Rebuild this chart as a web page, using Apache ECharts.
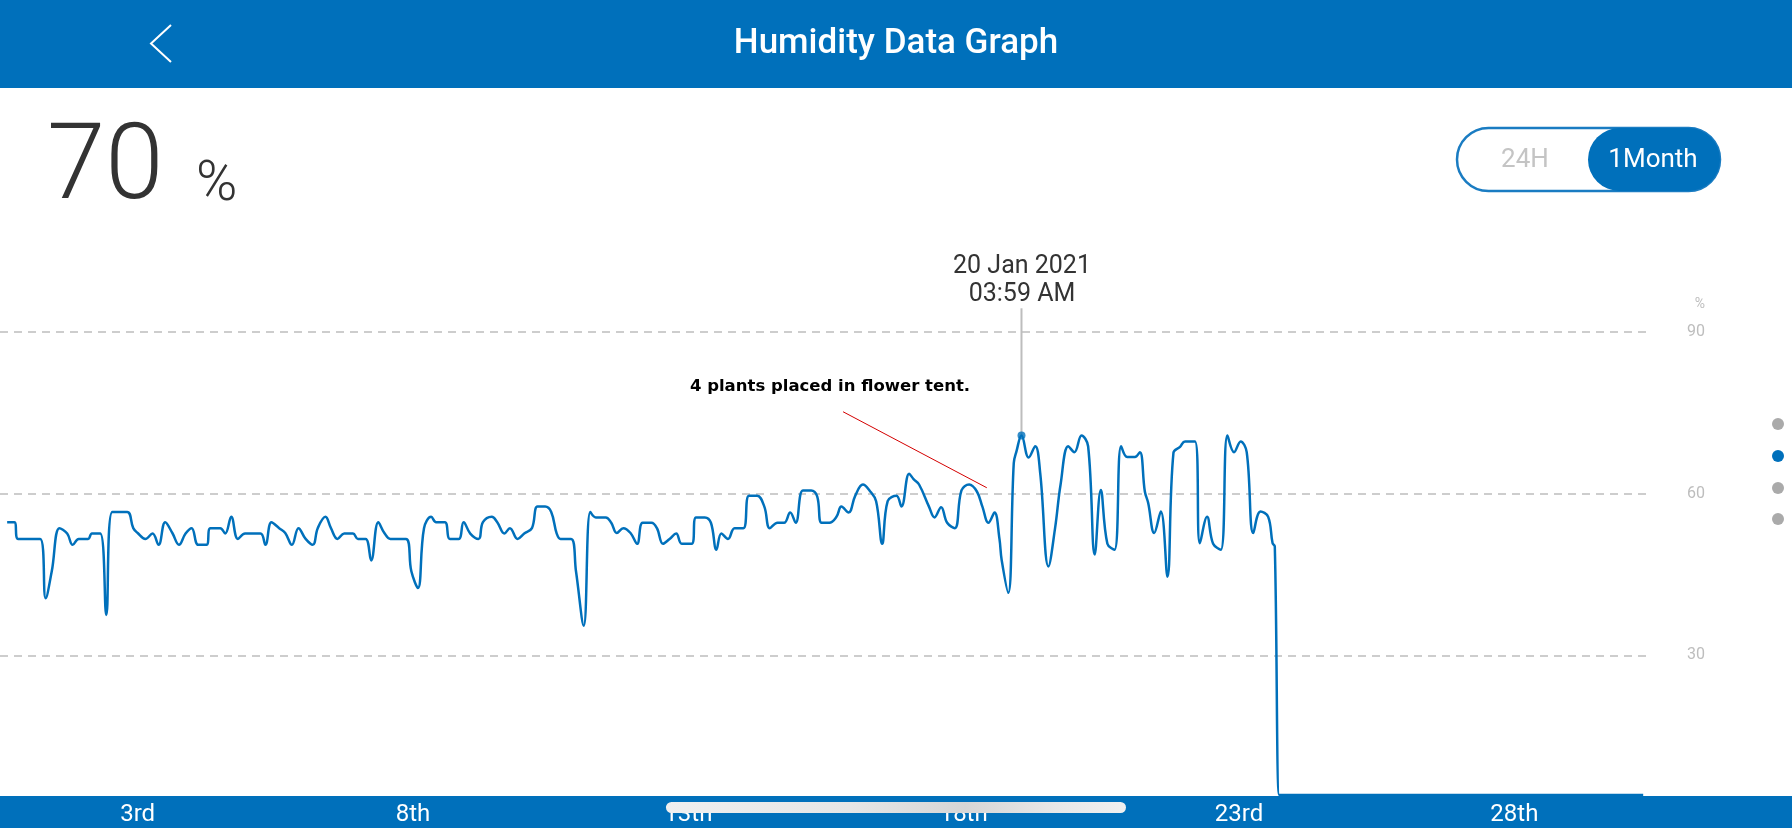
<!DOCTYPE html>
<html><head><meta charset="utf-8">
<script src="https://cdn.jsdelivr.net/npm/echarts@6/dist/echarts.min.js"></script>
<style>html,body{margin:0;padding:0;background:#fff;overflow:hidden}#c{width:1792px;height:828px}</style>
</head><body><div id="c"></div>
<script>
// ---- data (x = day of month, y = humidity %) ----
const dayPos = [0.63,0.76,0.83,1.23,1.33,1.44,1.58,1.72,1.82,1.93,2.10,2.17,2.32,2.43,2.54,2.81,2.92,3.00,3.14,3.27,3.38,3.50,3.63,3.75,3.87,3.98,4.10,4.25,4.32,4.50,4.59,4.70,4.82,4.95,5.23,5.32,5.43,5.57,5.68,5.80,5.92,6.05,6.18,6.27,6.41,6.51,6.63,6.75,6.91,7.00,7.14,7.24,7.37,7.48,7.59,7.87,7.97,8.09,8.20,8.33,8.42,8.58,8.67,8.83,8.92,9.04,9.19,9.27,9.43,9.53,9.66,9.76,9.90,10.02,10.16,10.26,10.40,10.51,10.61,10.68,10.87,10.96,11.10,11.22,11.32,11.50,11.60,11.70,11.82,11.95,12.07,12.17,12.33,12.43,12.54,12.66,12.78,12.88,13.06,13.14,13.30,13.41,13.51,13.60,13.72,13.84,14.00,14.10,14.25,14.38,14.48,14.62,14.74,14.85,14.95,15.08,15.23,15.34,15.42,15.56,15.69,15.78,15.91,16.03,16.17,16.29,16.41,16.52,16.62,16.78,16.87,17.01,17.09,17.19,17.37,17.47,17.59,17.70,17.84,17.96,18.10,18.24,18.34,18.45,18.56,18.65,18.69,18.81,18.91,18.96,19.05,19.18,19.30,19.39,19.54,19.66,19.76,19.90,20.01,20.14,20.26,20.38,20.49,20.61,20.74,20.86,20.97,21.11,21.20,21.29,21.35,21.46,21.58,21.70,21.81,21.93,22.02,22.20,22.29,22.42,22.53,22.67,22.79,22.91,23.03,23.14,23.26,23.39,23.53,23.61,23.65,23.73,23.78,30.34];
const humidity = [54.7,54.7,51.6,51.6,40.6,45.6,53.6,52.6,50.5,51.6,51.6,52.6,52.6,37.5,56.6,56.6,53.6,52.7,51.6,52.6,50.5,54.7,52.7,50.5,52.6,53.6,50.5,50.5,53.6,53.6,52.6,55.7,51.6,52.6,52.6,50.5,54.7,53.6,52.7,50.5,53.6,51.6,50.5,53.6,55.7,53.6,51.6,52.6,52.6,51.6,51.6,47.6,54.7,52.7,51.6,51.6,45.6,42.5,53.6,55.7,54.7,54.7,51.6,51.6,54.7,52.6,51.6,54.7,55.7,54.7,52.6,53.6,51.6,52.6,53.6,57.6,57.6,56.6,52.6,51.6,51.6,45.6,35.5,56.6,55.6,55.6,54.6,52.7,53.6,52.7,50.7,54.6,54.6,53.6,50.7,51.6,52.6,50.7,50.7,55.6,55.6,54.6,49.6,52.6,51.6,53.6,53.6,59.6,59.6,57.6,53.6,54.6,54.6,56.5,54.6,60.6,60.6,59.5,54.6,54.6,55.7,57.6,56.5,59.6,61.7,60.6,58.6,50.7,58.6,59.6,57.6,63.7,62.7,61.7,57.6,55.6,57.5,54.6,53.6,60.6,61.7,60.4,57.6,54.6,56.5,51.6,47.7,41.6,65.7,67.9,70.8,66.7,68.8,63.8,46.5,53.6,61.7,68.8,67.7,70.8,68.8,48.7,60.7,50.7,49.6,68.8,66.8,66.8,67.7,60.4,58.3,52.7,56.7,44.6,67.6,68.7,69.7,69.7,50.8,55.7,50.7,49.6,70.8,67.7,69.7,67.7,52.7,56.7,55.7,50.8,50.2,4.1,4.1,4.1];
const xTickDays = [3, 8, 13, 18, 23, 28];
const xTickLabels = ['3rd', '8th', '13th', '18th', '23rd', '28th'];
const yTicks = [0, 30, 60, 90];
const highlightDay = 19.05, highlightValue = 70.8, pointerTopValue = 94.4;
const noteLineDays = [15.81, 18.42];
const noteLineValues = [75.2, 61.1];
const titleText = 'Humidity Data Graph';
const currentValue = '70';
const noteText = '4 plants placed in flower tent.';
const tipDate = '20 Jan 2021', tipTime = '03:59 AM';

const BLUE = '#0070BB';
const FF = 'Roboto, "Noto Sans", "DejaVu Sans", sans-serif';
const chart = echarts.init(document.getElementById('c'), null, {renderer: 'canvas'});
const mainData = dayPos.map((d, i) => [d, humidity[i]]);
const labelMap = {}; xTickDays.forEach((d, i) => labelMap[d] = xTickLabels[i]);

chart.setOption({
  animation: false,
  backgroundColor: '#fff',
  grid: {left: 0, right: 140, top: 332, bottom: 11, containLabel: false},
  xAxis: {
    type: 'value', min: 0.5, max: 30.5, z: 10,
    axisLine: {show: false}, axisTick: {show: false}, splitLine: {show: false},
    axisLabel: {customValues: xTickDays, formatter: v => labelMap[v] || '', color: '#fff',
      fontSize: 24, fontFamily: FF, margin: -2, verticalAlign: 'middle'}
  },
  yAxis: {
    type: 'value', position: 'right', min: yTicks[0], max: yTicks[yTicks.length - 1], interval: 30,
    axisLine: {show: false}, axisTick: {show: false},
    splitLine: {show: true, lineStyle: {color: '#bdbdbd', width: 1.5, type: [8, 6]}},
    axisLabel: {color: '#bdbdbd', fontSize: 16, fontFamily: FF, margin: 35,
      formatter: v => v === 0 ? '' : String(v)}
  },
  series: [
    {type: 'line', data: mainData, smooth: 0.4, showSymbol: false, clip: false, z: 3,
      lineStyle: {color: BLUE, width: 2.5}},
    {type: 'line', data: [[highlightDay, highlightValue], [highlightDay, pointerTopValue]],
      showSymbol: false, clip: false, z: 2, lineStyle: {color: '#bdbdbd', width: 2}},
    {type: 'scatter', data: [[highlightDay, highlightValue]], symbolSize: 8, z: 4,
      itemStyle: {color: BLUE}},
    {type: 'line', data: noteLineDays.map((d, i) => [d, noteLineValues[i]]),
      showSymbol: false, clip: false, z: 2, lineStyle: {color: '#d40000', width: 1}}
  ],
  graphic: [
    {type: 'rect', z: 5, shape: {x: 0, y: 0, width: 1792, height: 88}, style: {fill: BLUE}},
    {type: 'text', z: 6, x: 896, y: 44, style: {text: titleText, fill: '#fff',
      font: '500 35px ' + FF, align: 'center', verticalAlign: 'middle'}},
    {type: 'polyline', z: 6, shape: {points: [[171, 25], [151, 43.5], [171, 62]]},
      style: {stroke: '#fff', lineWidth: 2, fill: null}},
    {type: 'text', x: 47, y: 172, style: {text: currentValue, fill: '#333',
      font: '300 105px ' + FF, align: 'left', verticalAlign: 'middle'}},
    {type: 'text', x: 196, y: 186, style: {text: '%', fill: '#333',
      font: '300 56px ' + FF, align: 'left', verticalAlign: 'middle'}},
    {type: 'rect', shape: {x: 1457, y: 128, width: 263, height: 63, r: 31.5},
      style: {fill: '#fff', stroke: '#1a7cc2', lineWidth: 2.5}},
    {type: 'rect', shape: {x: 1588, y: 128, width: 132, height: 63, r: 31.5}, style: {fill: BLUE}},
    {type: 'text', x: 1525, y: 160, style: {text: '24H', fill: '#c4c4c4',
      font: '26px ' + FF, align: 'center', verticalAlign: 'middle'}},
    {type: 'text', x: 1653, y: 160, style: {text: '1Month', fill: '#fff',
      font: '26px ' + FF, align: 'center', verticalAlign: 'middle'}},
    {type: 'circle', shape: {cx: 1778, cy: 424, r: 6}, style: {fill: '#aaaaaa'}},
    {type: 'circle', shape: {cx: 1778, cy: 456, r: 6}, style: {fill: BLUE}},
    {type: 'circle', shape: {cx: 1778, cy: 488, r: 6}, style: {fill: '#aaaaaa'}},
    {type: 'circle', shape: {cx: 1778, cy: 519, r: 6}, style: {fill: '#aaaaaa'}},
    {type: 'text', x: 1700, y: 304, style: {text: '%', fill: '#bdbdbd',
      font: '14px ' + FF, align: 'center', verticalAlign: 'middle'}},
    {type: 'text', x: 1022, y: 267, style: {text: tipDate, fill: '#333',
      font: '25px ' + FF, align: 'center', verticalAlign: 'middle'}},
    {type: 'text', x: 1022, y: 295, style: {text: tipTime, fill: '#333',
      font: '25px ' + FF, align: 'center', verticalAlign: 'middle'}},
    {type: 'text', x: 830, y: 387, style: {text: noteText, fill: '#000',
      font: 'bold 16.5px "DejaVu Sans", sans-serif', align: 'center', verticalAlign: 'middle'}},
    {type: 'rect', z: 5, shape: {x: 0, y: 796, width: 1792, height: 32}, style: {fill: BLUE}},
    {type: 'rect', z: 20, shape: {x: 666, y: 802, width: 460, height: 11, r: 5.5},
      style: {fill: new echarts.graphic.LinearGradient(0, 0, 1, 0, [
        {offset: 0, color: '#efefef'}, {offset: 0.4, color: '#e6e6e6'},
        {offset: 0.65, color: '#d6d6d6'}, {offset: 0.85, color: '#e8e8e8'}, {offset: 1, color: '#f0f0f0'}])}}
  ]
});
</script></body></html>
